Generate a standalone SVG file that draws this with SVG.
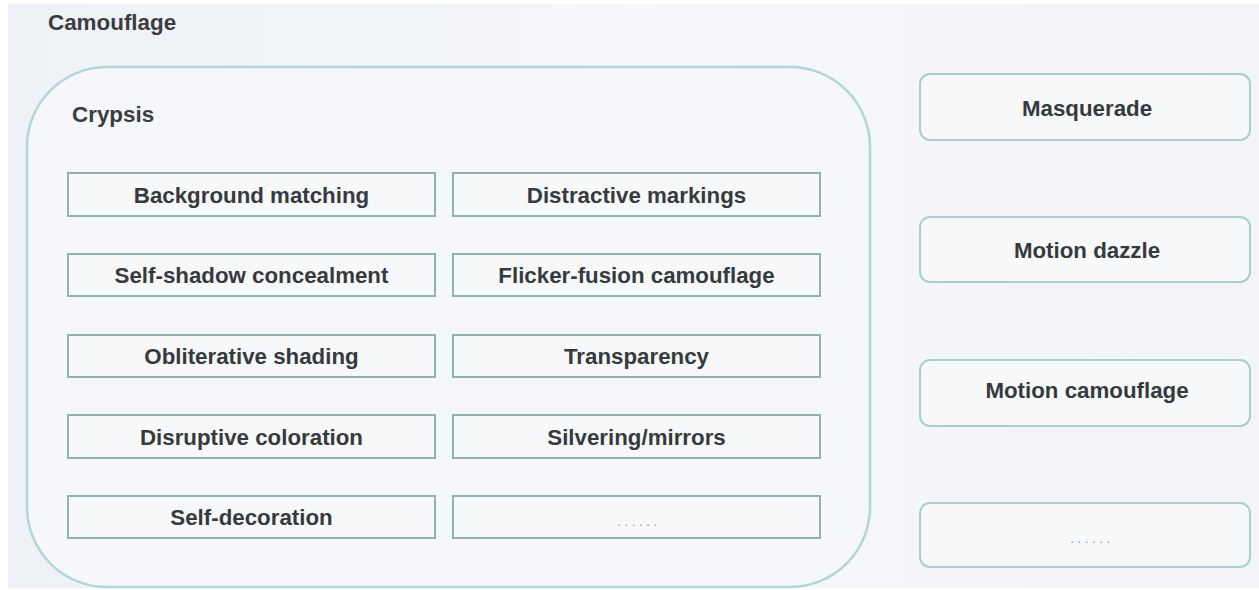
<svg xmlns="http://www.w3.org/2000/svg" width="1259" height="590" viewBox="0 0 1259 590">
<defs>
<linearGradient id="bg" x1="0" y1="0" x2="1" y2="0">
<stop offset="0" stop-color="#eef1f5"/>
<stop offset="0.5" stop-color="#f5f7fa"/>
<stop offset="1" stop-color="#f2f4f8"/>
</linearGradient>
<style>
.t{font-family:"Liberation Sans",Arial,sans-serif;font-weight:bold;font-size:22.3px;fill:#363a3d;text-anchor:middle}
.h{font-family:"Liberation Sans",Arial,sans-serif;font-weight:bold;font-size:22.4px;fill:#3a3d40}
.d{font-family:"Liberation Sans",Arial,sans-serif;font-size:13px;fill:#8a8f94;text-anchor:middle;letter-spacing:3.6px}
.b{fill:#f6f8fa;stroke:#8fb3b3;stroke-width:2}
.r{fill:#f6f8fa;stroke:#a9cfcf;stroke-width:2}
.big{fill:#f5f7fa;stroke:#b3d6d6;stroke-width:2.5}
</style>
</defs>
<rect width="1259" height="590" fill="#ffffff"/>
<rect x="8" y="4" width="1251" height="584" fill="url(#bg)"/>
<text class="h" x="48" y="30">Camouflage</text>
<g id="crypsis">
<rect class="big" x="27" y="67" width="843" height="520" rx="80" ry="80"/>
<text class="h" x="72" y="122">Crypsis</text>
</g>
<g id="background-matching"><rect class="b" x="68" y="173" width="367" height="43"/><text class="t" x="251.5" y="203">Background matching</text></g>
<g id="distractive-markings"><rect class="b" x="453" y="173" width="367" height="43"/><text class="t" x="636.5" y="203">Distractive markings</text></g>
<g id="self-shadow"><rect class="b" x="68" y="254" width="367" height="42"/><text class="t" x="251.5" y="283">Self-shadow concealment</text></g>
<g id="flicker-fusion"><rect class="b" x="453" y="254" width="367" height="42"/><text class="t" x="636.5" y="283">Flicker-fusion camouflage</text></g>
<g id="obliterative"><rect class="b" x="68" y="335" width="367" height="42"/><text class="t" x="251.5" y="364">Obliterative shading</text></g>
<g id="transparency"><rect class="b" x="453" y="335" width="367" height="42"/><text class="t" x="636.5" y="364">Transparency</text></g>
<g id="disruptive"><rect class="b" x="68" y="415" width="367" height="43"/><text class="t" x="251.5" y="445">Disruptive coloration</text></g>
<g id="silvering"><rect class="b" x="453" y="415" width="367" height="43"/><text class="t" x="636.5" y="445">Silvering/mirrors</text></g>
<g id="self-decoration"><rect class="b" x="68" y="496" width="367" height="42"/><text class="t" x="251.5" y="525">Self-decoration</text></g>
<g id="crypsis-more"><rect class="b" x="453" y="496" width="367" height="42"/><text class="d" x="639" y="526">......</text></g>
<g id="masquerade"><rect class="r" x="920" y="74" width="330" height="66" rx="10"/><text class="t" x="1087" y="116">Masquerade</text></g>
<g id="motion-dazzle"><rect class="r" x="920" y="217" width="330" height="65" rx="10"/><text class="t" x="1087" y="258">Motion dazzle</text></g>
<g id="motion-camouflage"><rect class="r" x="920" y="360" width="330" height="66" rx="10"/><text class="t" x="1087" y="398">Motion camouflage</text></g>
<g id="other-more"><rect class="r" x="920" y="503" width="330" height="64" rx="10"/><text class="d" x="1092" y="543">......</text></g>
<g id="connectors"></g>
</svg>
